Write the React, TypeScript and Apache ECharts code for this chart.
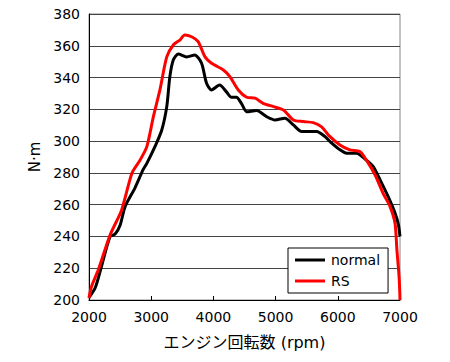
import React, { useEffect, useRef } from "react";
import * as echarts from "echarts";

const normalRpm = [2000, 2100, 2200, 2340, 2420, 2500, 2580, 2740, 2870, 2930, 3060, 3170, 3250, 3300, 3355, 3435, 3570, 3700, 3810, 3890, 3970, 4100, 4210, 4290, 4370, 4450, 4535, 4695, 4855, 4990, 5150, 5285, 5420, 5660, 5795, 5875, 6035, 6140, 6300, 6460, 6570, 6680, 6810, 6920, 6975, 7000];
const normalTorque = [201.5, 207.7, 221, 240, 241.5, 247, 258.8, 270.6, 282, 286, 296.5, 307, 321.7, 340.6, 351, 354.8, 353, 354.2, 349, 336.4, 332.2, 335.3, 331, 327.6, 327.6, 323.8, 318.5, 319.2, 315.4, 313.3, 314.4, 310.2, 306, 306, 302.8, 299.7, 294.5, 292.4, 292.4, 288, 284, 275.6, 265, 254.7, 247.3, 240];

const rsRpm = [2000, 2040, 2150, 2340, 2525, 2690, 2820, 2930, 3035, 3140, 3250, 3355, 3460, 3540, 3650, 3755, 3865, 3970, 4160, 4265, 4400, 4535, 4670, 4800, 4965, 5125, 5285, 5445, 5605, 5740, 5850, 6035, 6195, 6355, 6460, 6600, 6730, 6840, 6920, 6950, 6985, 7000];
const rsTorque = [201.3, 208.5, 219, 241, 256.7, 279.8, 288, 296.5, 315.4, 332.2, 353, 360.5, 363.6, 366.8, 365.7, 362.6, 353, 349, 344.8, 340.6, 332.2, 327.6, 327, 323.8, 321.7, 319.6, 313.3, 312.3, 311.6, 309, 303.8, 297.6, 294.5, 293.4, 288, 278.7, 267, 258.8, 248.3, 231.6, 214.8, 200];

const seriesNames = ["normal", "RS"];
const xAxisName = "エンジン回転数 (rpm)";
const yAxisName = "N·m";

const FONT = "'DejaVu Sans', 'Noto Sans CJK JP', sans-serif";

export default function App() {
  const ref = useRef<HTMLDivElement>(null);
  useEffect(() => {
    if (!ref.current) return;
    const chart = echarts.init(ref.current, null, { renderer: "svg" });
    const zip = (xs: number[], ys: number[]) => xs.map((x, i) => [x, ys[i]]);
    chart.setOption({
      animation: false,
      textStyle: { fontFamily: FONT },
      grid: {
        left: 89,
        right: 50,
        top: 14,
        bottom: 62,
        containLabel: false,
        show: true,
        borderColor: "#888",
        borderWidth: 1,
        backgroundColor: "transparent",
      },
      legend: {
        orient: "vertical",
        left: 288,
        top: 248,
        padding: [4, 8, 4, 7],
        borderColor: "#000",
        borderWidth: 1,
        backgroundColor: "#fff",
        itemWidth: 30,
        itemHeight: 3,
        itemGap: 5,
        icon: "rect",
        textStyle: { fontSize: 14, color: "#000", fontFamily: FONT, lineHeight: 16, padding: [0, 0, 0, 1] },
        data: seriesNames,
      },
      xAxis: {
        type: "value",
        min: 2000,
        max: 7000,
        interval: 1000,
        name: xAxisName,
        nameLocation: "middle",
        nameGap: 34,
        nameTextStyle: { fontSize: 16, color: "#000", fontFamily: FONT },
        axisLine: { lineStyle: { color: "#000", width: 1 } },
        axisTick: { inside: true, length: 4, lineStyle: { color: "#000" } },
        axisLabel: { fontSize: 14, color: "#000", margin: 10, fontFamily: FONT, formatter: (v: number) => String(v) },
        splitLine: { show: false },
      },
      yAxis: {
        type: "value",
        min: 200,
        max: 380,
        interval: 20,
        name: yAxisName,
        nameLocation: "middle",
        nameGap: 45,
        nameRotate: 90,
        nameTextStyle: { fontSize: 15, color: "#000", fontFamily: FONT },
        axisLine: { show: true, lineStyle: { color: "#000", width: 1 } },
        axisTick: { show: false },
        axisLabel: { fontSize: 14, color: "#000", margin: 9, fontFamily: FONT },
        splitLine: { show: true, lineStyle: { color: "#444", width: 1 } },
      },
      series: [
        {
          name: seriesNames[0],
          type: "line",
          data: zip(normalRpm, normalTorque),
          showSymbol: false,
          smooth: 0.25,
          lineStyle: { color: "#000", width: 3 },
          itemStyle: { color: "#000" },
        },
        {
          name: seriesNames[1],
          type: "line",
          data: zip(rsRpm, rsTorque),
          showSymbol: false,
          smooth: 0.25,
          lineStyle: { color: "#ff0000", width: 3 },
          itemStyle: { color: "#ff0000" },
        },
      ],
    });
    return () => chart.dispose();
  }, []);
  return (
    <div
      ref={ref}
      style={{ position: "fixed", left: 0, top: 0, width: 450, height: 362, background: "#fff" }}
    />
  );
}
